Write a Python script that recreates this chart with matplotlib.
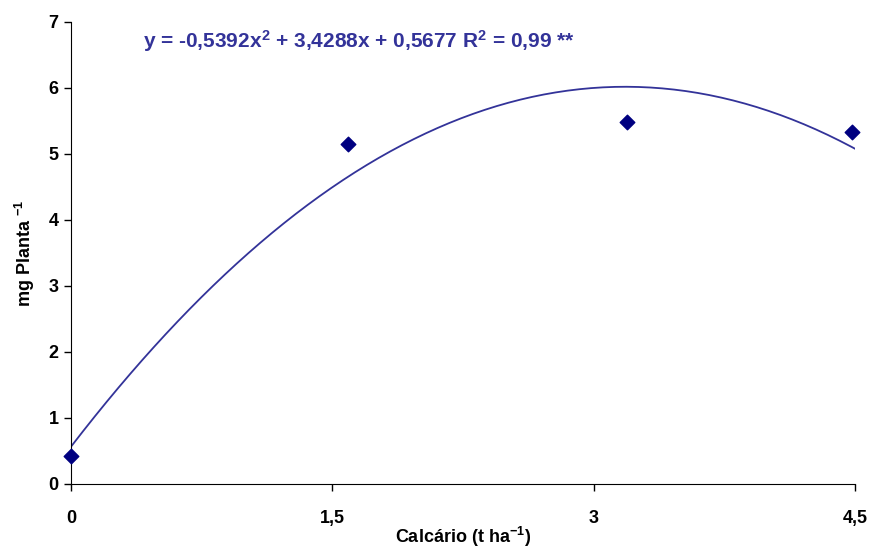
import numpy as np
import matplotlib
matplotlib.use("Agg")
import matplotlib.pyplot as plt

plt.rcParams['font.family'] = ['Liberation Sans', 'DejaVu Sans']
plt.rcParams['font.weight'] = 'bold'
plt.rcParams['mathtext.fontset'] = 'custom'
plt.rcParams['mathtext.rm'] = 'Liberation Sans:bold'
plt.rcParams['mathtext.bf'] = 'Liberation Sans:bold'
plt.rcParams['mathtext.default'] = 'rm'

# dados observados
calcario = [0, 1.59, 3.19, 4.48]
mg_planta = [0.42, 5.15, 5.48, 5.33]

# coeficientes da linha de tendencia (a, b, c)
coef = [-0.5392, 3.4288, 0.5677]
r2 = "0,99"

xticks = [0, 1.5, 3, 4.5]
xtick_labels = ["0", "1,5", "3", "4,5"]
yticks = [0, 1, 2, 3, 4, 5, 6, 7]

fig = plt.figure(figsize=(8.78, 5.5), dpi=100)
ax = fig.add_axes([0.081, 0.12, 0.893, 0.84])

xs = np.linspace(0, 4.5, 200)
ax.plot(xs, np.polyval(coef, xs), color="#333399", lw=1.3)
ax.scatter(calcario, mg_planta, marker="D", s=55, color="#000080", zorder=3, clip_on=False)

ax.set_xlim(0, 4.5)
ax.set_ylim(0, 7)
ax.set_xticks(xticks)
ax.set_xticklabels(xtick_labels)
ax.set_yticks(yticks)
ax.tick_params(labelsize=13, direction="out", length=5, width=1, pad=14, axis="x")
ax.tick_params(labelsize=13, direction="out", length=5, width=1, pad=4, axis="y")
for s in ["top", "right"]:
    ax.spines[s].set_visible(False)

ax.set_xlabel(r"Calcário (t ha$^{-1}$)", fontsize=13, fontweight="bold", labelpad=-2)
ax.set_ylabel(r"mg Planta $^{-1}$", fontsize=13, fontweight="bold", labelpad=8)

eq = r"y = -0,5392x$^2$ + 3,4288x + 0,5677 R$^2$ = " + r2 + " **"
ax.text(0.092, 0.958, eq, transform=ax.transAxes, fontsize=15,
        fontweight="bold", color="#333399", va="center")

fig.savefig("out.png", dpi=100)
